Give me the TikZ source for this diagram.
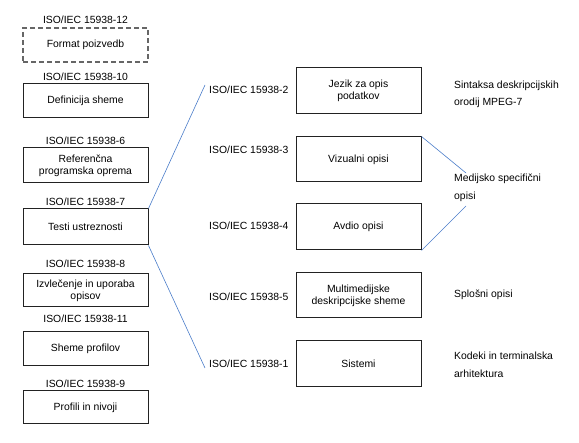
\documentclass[tikz,border=0pt]{standalone}
\usepackage{fontspec}
\setmainfont{Liberation Sans}
\definecolor{linkblue}{HTML}{4A7CC9}
\definecolor{boxline}{HTML}{222222}
\begin{document}
\begin{tikzpicture}[x=1pt,y=-1pt,
  font=\fontsize{10.4}{12}\selectfont,
  box/.style={draw=boxline, line width=1pt, minimum width=125pt, inner sep=0pt, align=center, text=black},
  dbox/.style={box, draw=black!60, dash pattern=on 5pt off 3pt, line width=1.4pt},
  lbl/.style={inner sep=0pt, text=black},
  rlbl/.style={inner sep=0pt, anchor=west, align=left, font=\fontsize{10.4}{17.5}\selectfont},
  link/.style={draw=linkblue, line width=0.6pt}]
\useasboundingbox (0,0) rectangle (579,443);
% left column
\node[dbox, minimum height=34pt] (b12) at (85.5,45) {Format poizvedb};
\node[lbl] (l12) at (85.5,20) {ISO/IEC 15938-12};
\node[box, minimum height=34pt] (b10) at (85.5,101) {Definicija sheme};
\node[lbl] (l10) at (85.5,77) {ISO/IEC 15938-10};
\node[box, minimum height=35pt] (b6) at (85.5,165.5) {Referenčna\\programska oprema};
\node[lbl] (l6) at (85.5,141) {ISO/IEC 15938-6};
\node[box, minimum height=36pt] (b7) at (85.5,227) {Testi ustreznosti};
\node[lbl] (l7) at (85.5,202) {ISO/IEC 15938-7};
\node[box, minimum height=33pt] (b8) at (85.5,290.5) {Izvlečenje in uporaba\\opisov};
\node[lbl] (l8) at (85.5,264) {ISO/IEC 15938-8};
\node[box, minimum height=34pt] (b11) at (85.5,349) {Sheme profilov};
\node[lbl] (l11) at (85.5,319) {ISO/IEC 15938-11};
\node[box, minimum height=33pt] (b9) at (85.5,407.5) {Profili in nivoji};
\node[lbl] (l9) at (85.5,384) {ISO/IEC 15938-9};
% middle column
\node[box, minimum height=46pt] (m2) at (358.5,91) {Jezik za opis\\podatkov};
\node[box, minimum height=45pt] (m3) at (358.5,159.5) {Vizualni opisi};
\node[box, minimum height=46pt] (m4) at (358.5,227) {Avdio opisi};
\node[box, minimum height=45pt] (m5) at (358.5,295.5) {Multimedijske\\deskripcijske sheme};
\node[box, minimum height=46pt] (m1) at (358.5,364) {Sistemi};
\node[lbl, anchor=west] (t2) at (209,90) {ISO/IEC 15938-2};
\node[lbl, anchor=west] (t3) at (209,150) {ISO/IEC 15938-3};
\node[lbl, anchor=west] (t4) at (209,226) {ISO/IEC 15938-4};
\node[lbl, anchor=west] (t5) at (209,297) {ISO/IEC 15938-5};
\node[lbl, anchor=west] (t1) at (209,364) {ISO/IEC 15938-1};
% right column
\node[rlbl] (r2) at (454,94.5) {Sintaksa deskripcijskih\\orodij MPEG-7};
\node[rlbl] (r34) at (454,188) {Medijsko specifični\\opisi};
\node[rlbl] (r5) at (454,295) {Splošni opisi};
\node[rlbl] (r1) at (454,365) {Kodeki in terminalska\\arhitektura};
% connectors
\coordinate (ctop) at (205,85);
\coordinate (cbot) at (205,368);
\coordinate (rtop) at (466,173);
\coordinate (rbot) at (466,206);
\draw[link] (b7.north east) -- (ctop);
\draw[link] (b7.south east) -- (cbot);
\draw[link] (m3.north east) -- (rtop);
\draw[link] (m4.south east) -- (rbot);
\end{tikzpicture}
\end{document}
